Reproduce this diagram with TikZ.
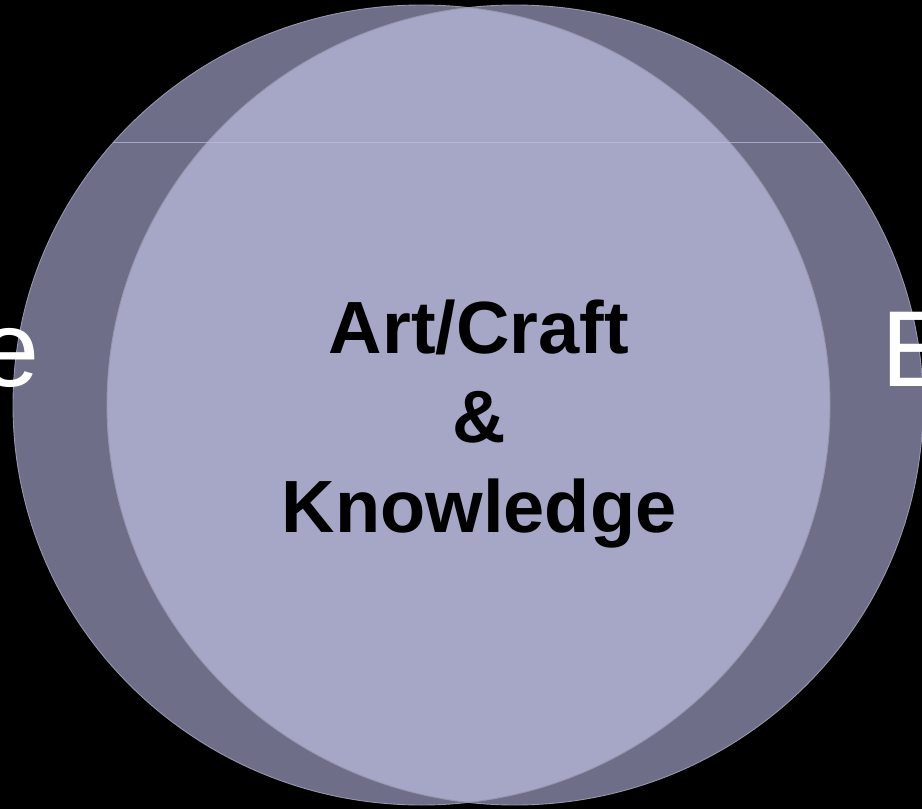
\documentclass[tikz,border=0pt]{standalone}
\usepackage{fontspec}
\setmainfont{Liberation Sans}
\definecolor{bgblack}{RGB}{0,0,0}
\definecolor{ringdark}{RGB}{110,110,136}
\definecolor{lenslight}{RGB}{166,166,198}
\definecolor{edgelight}{RGB}{150,150,172}
\definecolor{hairline}{RGB}{190,190,225}
\tikzset{
  bigtext/.style={inner sep=0pt, text=black, font=\fontsize{74}{89}\selectfont\bfseries},
  sidetext/.style={inner sep=0pt, text=white, font=\fontsize{108}{120}\selectfont},
  edgeline/.style={draw=edgelight, line width=0.9pt}
}
\begin{document}
\begin{tikzpicture}[x=1pt,y=-1pt]
  \useasboundingbox (0,0) rectangle (922,809);
  \clip (0,0) rectangle (922,809);
  \fill[bgblack] (0,0) rectangle (922,809);
  % two overlapping discs
  \fill[ringdark] (421.5,405) ellipse [x radius=408.5pt, y radius=400pt];
  \fill[ringdark] (515,405) ellipse [x radius=408pt, y radius=400pt];
  % lens (intersection)
  \begin{scope}
    \clip (421.5,405) ellipse [x radius=408.5pt, y radius=400pt];
    \fill[lenslight] (515,405) ellipse [x radius=408pt, y radius=400pt];
  \end{scope}
  % outlines
  \draw[edgeline] (421.5,405) ellipse [x radius=408.5pt, y radius=400pt];
  \draw[edgeline] (515,405) ellipse [x radius=408pt, y radius=400pt];
  % faint horizontal hairline across the discs
  \begin{scope}
    \clip (421.5,405) ellipse [x radius=408.5pt, y radius=400pt]
          (515,405) ellipse [x radius=408pt, y radius=400pt];
    \draw[hairline, line width=0.8pt, opacity=0.7] (0,142) -- (922,142);
  \end{scope}
  % central text
  \node[bigtext, anchor=base] (art) at (479,353) {Art/Craft};
  \node[bigtext, anchor=base] (amp) at (479,442) {\&};
  \node[bigtext, anchor=base] (know) at (479,532) {Knowledge};
  % cut-off side words
  \node[sidetext, anchor=base east] (lefte) at (40,386) {e};
  \node[sidetext, anchor=base west] (rightE) at (881,386) {E};
\end{tikzpicture}
\end{document}
